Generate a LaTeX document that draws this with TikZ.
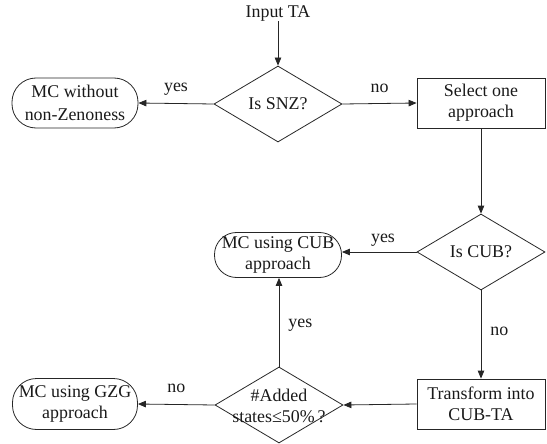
\documentclass[tikz,border=0pt]{standalone}
\usepackage{fontspec}
\setmainfont{Liberation Serif}
\usetikzlibrary{shapes.geometric,arrows.meta}
\begin{document}
\begin{tikzpicture}[x=1pt,y=-1pt,
  every node/.style={font=\fontsize{17.9}{21}\selectfont, text=black!90},
  line/.style={draw=black!85, line width=0.8pt},
  arr/.style={line, -{Triangle[length=8pt,width=6.5pt]}},
  term/.style={line, rectangle, rounded corners=24pt, align=center, inner sep=0pt, minimum width=126pt, minimum height=50pt},
  proc/.style={line, rectangle, align=center, inner sep=0pt, minimum width=128pt, minimum height=50pt},
  decision/.style={line, diamond, inner sep=0pt, minimum width=128pt, minimum height=76pt},
  txt/.style={align=center, inner sep=0pt},
  lbl/.style={inner sep=0pt}]
\useasboundingbox (0,0) rectangle (547,444);
\node[txt] (in) at (278,13) {Input TA};
\node[decision] (d1) at (278,104) {};
\node[txt] (d1t) at (d1) {Is SNZ?};
\node[term] (t1) at (75,103) {MC without\\[2pt]non-Zenoness};
\node[proc] (p1) at (481,103) {Select one\\approach};
\node[decision] (d2) at (481,252) {};
\node[txt] (d2t) at (d2) {Is CUB?};
\node[term, minimum width=127pt, minimum height=45pt, rounded corners=22pt] (t2) at (278,255) {MC using CUB\\approach};
\node[proc] (p2) at (481,404) {Transform into\\CUB-TA};
\node[decision] (d3) at (279,405) {};
\node[txt] (d3t) at (279,406) {\#Added\\states≤50\%\,?};
\node[term, minimum width=125pt, minimum height=51pt] (t3) at (75,404) {MC using GZG\\approach};

\draw[arr] (in.south) -- (d1.north);
\draw[arr] (d1.west) -- node[lbl, above=8pt, midway] (l1) {yes} (t1.east);
\draw[arr] (d1.east) -- node[lbl, above=10pt, midway] (l2) {no} (p1.west);
\draw[arr] (p1.south) -- (d2.north);
\draw[arr] (d2.west) -- node[lbl, above=5pt, pos=0.45] (l3) {yes} (d2.west -| t2.east);
\draw[arr] (d2.south) -- node[lbl, right=9pt, pos=0.47] (l4) {no} (p2.north);
\draw[arr] (p2.west) -- (d3.east);
\draw[arr] (d3.north) -- node[lbl, right=9pt, pos=0.47] (l5) {yes} (t2.south -| d3.north);
\draw[arr] (d3.west) -- node[lbl, above=11pt, midway] (l6) {no} (t3.east);
\end{tikzpicture}
\end{document}
